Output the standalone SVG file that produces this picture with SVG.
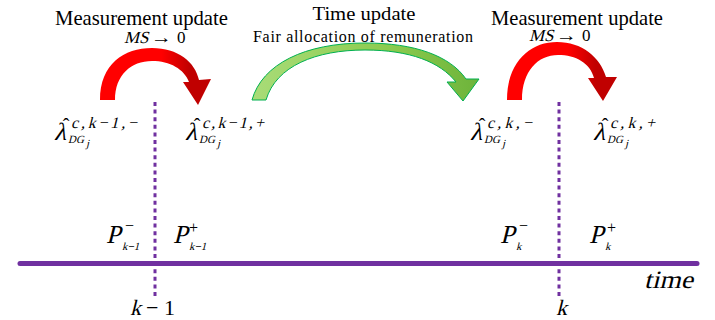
<svg xmlns="http://www.w3.org/2000/svg" width="715" height="320" viewBox="0 0 715 320">
<defs>
<linearGradient id="redGrad1" gradientUnits="userSpaceOnUse" x1="100" y1="0" x2="212" y2="0">
<stop offset="0" stop-color="#FF0000"/><stop offset="0.55" stop-color="#FF0000"/><stop offset="0.8" stop-color="#C00000"/><stop offset="1" stop-color="#C00000"/>
</linearGradient>
<linearGradient id="redGrad2" gradientUnits="userSpaceOnUse" x1="507" y1="0" x2="618" y2="0">
<stop offset="0" stop-color="#FF0000"/><stop offset="0.55" stop-color="#FF0000"/><stop offset="0.8" stop-color="#C00000"/><stop offset="1" stop-color="#C00000"/>
</linearGradient>
<linearGradient id="greenGrad" gradientUnits="userSpaceOnUse" x1="252" y1="0" x2="480" y2="0">
<stop offset="0" stop-color="#A9DC78"/><stop offset="0.6" stop-color="#8CCB4F"/><stop offset="1" stop-color="#6DB33A"/>
</linearGradient>
<style>
text{font-family:"Liberation Serif","Times New Roman",serif;fill:#000}
.axis{stroke:#7030A0;stroke-width:5;stroke-linecap:round;fill:none}
.dot{stroke:#7030A0;stroke-width:3;stroke-dasharray:4 3.6;fill:none}
.big{font-size:25px}
.sup{font-size:16px}
.sub{font-size:11px}
.hat{font-size:20px}
.pp{font-size:26px}
.ms{font-size:17px}
</style>
</defs>
<rect width="715" height="320" fill="#FFFFFF"/>

<g id="axis">
<line class="axis" x1="20" y1="263.5" x2="697" y2="263.5"/>
<line class="dot" x1="155" y1="102" x2="155" y2="296"/>
<line class="dot" x1="559" y1="102" x2="559" y2="296"/>
</g>

<g id="connectors">
<path id="meas1" d="M100,100 C100,64 124,48 152,48 C178,48 195,62 199,80 L211,79 L198,105 L183,82 L189,82 C184,69 170,61 152,61 C131,61 115,75 115,100 Z" fill="url(#redGrad1)"/>
<path id="timeupd" d="M252,100 C262,64 305,43 365,43 C415,43 450,56 466,79 L479,79 L463,101 L447,82 L456,82 C440,62 410,50 365,50 C316,50 276,66 266,100 Z" fill="url(#greenGrad)" stroke="#00B050" stroke-width="1"/>
<path id="meas2" d="M507,100 C507,62 530,42 557,42 C582,42 600,57 606,77 L617,77 L603,101 L588,78 L594,78 C590,63 576,55 558,55 C538,55 522,71 522,100 Z" fill="url(#redGrad2)"/>
</g>

<g id="label-meas1">
<text x="141.5" y="25" font-size="21" text-anchor="middle" textLength="173" lengthAdjust="spacingAndGlyphs">Measurement update</text>
<text class="ms" transform="translate(124,43) skewX(-14)">MS</text>
<text class="ms" x="151" y="43" textLength="21" lengthAdjust="spacingAndGlyphs">→</text>
<text class="ms" x="177" y="43">0</text>
</g>
<g id="label-time">
<text x="364" y="20" font-size="19.5" text-anchor="middle" textLength="103" lengthAdjust="spacingAndGlyphs">Time update</text>
<text x="363" y="42" font-size="16" text-anchor="middle" textLength="220" lengthAdjust="spacing">Fair allocation of remuneration</text>
</g>
<g id="label-meas2">
<text x="577" y="25" font-size="21" text-anchor="middle" textLength="172" lengthAdjust="spacingAndGlyphs">Measurement update</text>
<text class="ms" transform="translate(529,41) skewX(-14)">MS</text>
<text class="ms" x="556" y="41" textLength="21" lengthAdjust="spacingAndGlyphs">→</text>
<text class="ms" x="582" y="41">0</text>
</g>

<g id="lambda-k1-minus">
<text class="big" transform="translate(54,140) skewX(-14)">λ</text>
<text class="hat" x="66" y="133" text-anchor="middle">ˆ</text>
<text class="sup" transform="translate(71,128) skewX(-14)" textLength="66" lengthAdjust="spacing">c,k−1,−</text>
<text class="sub" transform="translate(68,143) skewX(-14)">DG</text>
<text class="sub" transform="translate(86,147) skewX(-14)">j</text>
</g>
<g id="lambda-k1-plus">
<text class="big" transform="translate(185,140) skewX(-14)">λ</text>
<text class="hat" x="197" y="133" text-anchor="middle">ˆ</text>
<text class="sup" transform="translate(202,128) skewX(-14)" textLength="62" lengthAdjust="spacing">c,k−1,+</text>
<text class="sub" transform="translate(199,143) skewX(-14)">DG</text>
<text class="sub" transform="translate(217,147) skewX(-14)">j</text>
</g>
<g id="lambda-k-minus">
<text class="big" transform="translate(470,140) skewX(-14)">λ</text>
<text class="hat" x="482" y="133" text-anchor="middle">ˆ</text>
<text class="sup" transform="translate(487,128) skewX(-14)" textLength="45" lengthAdjust="spacing">c,k,−</text>
<text class="sub" transform="translate(484,143) skewX(-14)">DG</text>
<text class="sub" transform="translate(502,147) skewX(-14)">j</text>
</g>
<g id="lambda-k-plus">
<text class="big" transform="translate(593,140) skewX(-14)">λ</text>
<text class="hat" x="605" y="133" text-anchor="middle">ˆ</text>
<text class="sup" transform="translate(610,128) skewX(-14)" textLength="45" lengthAdjust="spacing">c,k,+</text>
<text class="sub" transform="translate(607,143) skewX(-14)">DG</text>
<text class="sub" transform="translate(625,147) skewX(-14)">j</text>
</g>

<g id="P-k1-minus">
<text class="pp" transform="translate(106,243) skewX(-14)">P</text>
<text x="125" y="231" font-size="16">−</text>
<text class="sub" transform="translate(122,250) skewX(-14)">k−1</text>
</g>
<g id="P-k1-plus">
<text class="pp" transform="translate(173,243) skewX(-14)">P</text>
<text x="189" y="233" font-size="16">+</text>
<text class="sub" transform="translate(189,250) skewX(-14)">k−1</text>
</g>
<g id="P-k-minus">
<text class="pp" transform="translate(500,243) skewX(-14)">P</text>
<text x="519" y="231" font-size="16">−</text>
<text class="sub" transform="translate(516,250) skewX(-14)">k</text>
</g>
<g id="P-k-plus">
<text class="pp" transform="translate(589,243) skewX(-14)">P</text>
<text x="607" y="233" font-size="16">+</text>
<text class="sub" transform="translate(605,250) skewX(-14)">k</text>
</g>

<g id="label-time-axis">
<text transform="translate(644,288) skewX(-14)" font-size="25" textLength="49" lengthAdjust="spacingAndGlyphs">time</text>
</g>
<g id="tick-k1">
<text transform="translate(130,315) skewX(-14)" font-size="22">k</text>
<text x="146" y="315" font-size="22">− 1</text>
</g>
<g id="tick-k">
<text transform="translate(556,315) skewX(-14)" font-size="22">k</text>
</g>
</svg>
